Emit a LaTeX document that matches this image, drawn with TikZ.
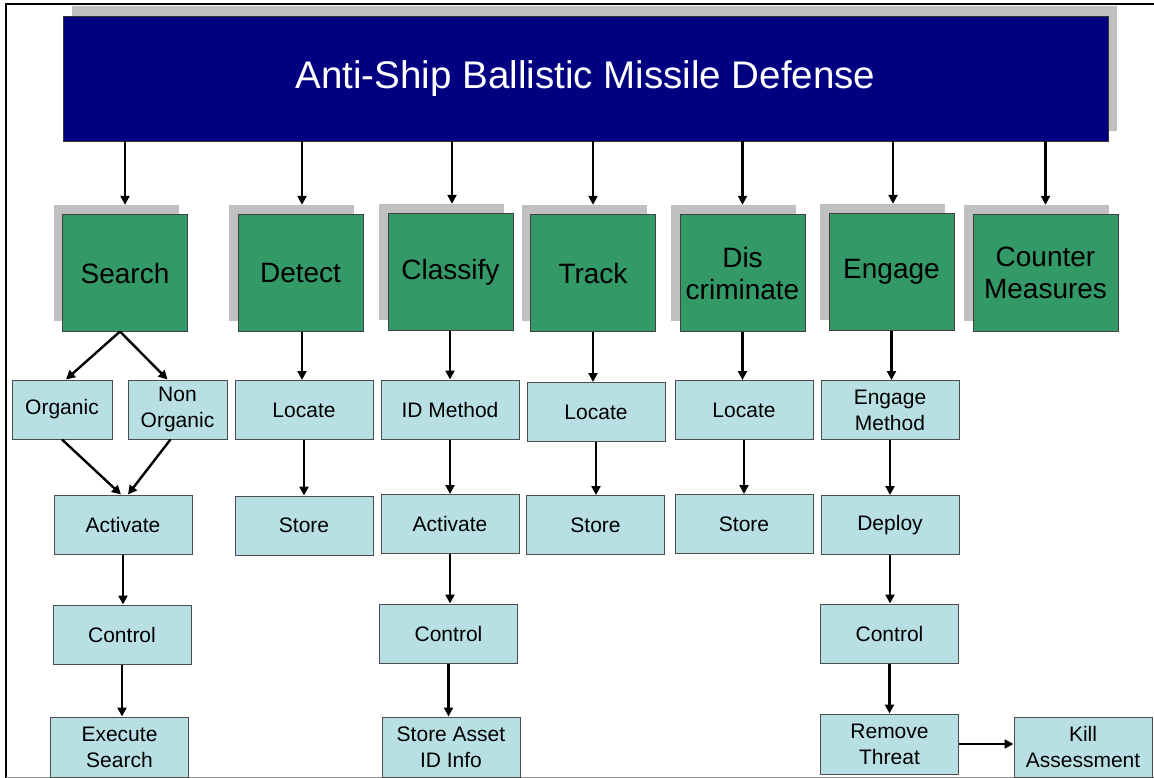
\documentclass[tikz,border=0pt]{standalone}
\usepackage{fontspec}
\setmainfont{Liberation Sans}
\usetikzlibrary{arrows.meta,calc}
\definecolor{barblue}{RGB}{0,0,128}
\definecolor{phase}{RGB}{51,153,102}
\definecolor{task}{RGB}{184,224,228}
\definecolor{shade}{RGB}{192,192,192}
\begin{document}
\begin{tikzpicture}[x=1pt,y=-1pt,
  phasebox/.style={draw=black!75, line width=1pt, fill=phase, minimum width=125pt,
    minimum height=116pt, inner sep=0pt, align=center, font=\fontsize{28}{32}\selectfont},
  phaseshadow/.style={fill=shade, minimum width=125pt, minimum height=116pt, inner sep=0pt},
  taskbox/.style={draw=black!70, line width=1pt, fill=task, minimum width=138pt,
    minimum height=59pt, inner sep=0pt, align=center, font=\fontsize{21}{26}\selectfont},
  arr/.style={line width=2.4pt, -{Triangle[length=9pt,width=9pt]}},
]
\useasboundingbox (0,0) rectangle (1154,778);
\fill[white] (0,0) rectangle (1154,778);

% frame
\draw[line width=1.6pt] (6,778) -- (6,4) -- (1154,4);
\draw[line width=1pt, black!45] (6,777.5) -- (1154,777.5);

% title bar
\node[fill=shade, minimum width=1045pt, minimum height=125pt, inner sep=0pt] (barsh) at (594.5,68.5) {};
\node[fill=barblue, draw=black!80, line width=0.8pt, minimum width=1045pt, minimum height=125pt,
  inner sep=0pt, text=white, font=\fontsize{38.5}{42}\selectfont] (bar) at (585.5,78.5)
  {Anti-Ship Ballistic Missile Defense};

% phase shadows
\node[phaseshadow] (searchsh)  at (116,263) {};
\node[phaseshadow] (detectsh)  at (291.5,263) {};
\node[phaseshadow] (classsh)   at (441.5,262) {};
\node[phaseshadow] (tracksh)   at (584,263) {};
\node[phaseshadow] (discsh)    at (733.5,263) {};
\node[phaseshadow] (engagesh)  at (882.5,262) {};
\node[phaseshadow, minimum width=145pt] (countersh) at (1036.5,263) {};

% phases
\node[phasebox] (search)  at (125,273) {Search};
\node[phasebox] (detect)  at (300.5,273) {Detect};
\node[phasebox] (class)   at (450.5,272) {Classify};
\node[phasebox] (track)   at (593,273) {Track};
\node[phasebox] (disc)    at (742.5,273) {Dis\\criminate};
\node[phasebox] (engage)  at (891.5,272) {Engage};
\node[phasebox, minimum width=145pt] (counter) at (1045.5,273) {Counter\\Measures};

% tasks, first row
\node[taskbox, minimum width=100pt] (org)  at (62,409.5) {Organic};
\node[taskbox, minimum width=99pt]  (non)  at (177.5,409.5) {Non\\Organic};
\node[taskbox] (dloc)  at (304,410) {Locate};
\node[taskbox] (idm)   at (450,409.5) {ID Method};
\node[taskbox] (tloc)  at (596,412) {Locate};
\node[taskbox] (xloc)  at (744,410) {Locate};
\node[taskbox] (emeth) at (890,410) {Engage\\Method};

% second row
\node[taskbox] (sact)   at (123,524.5) {Activate};
\node[taskbox] (dstore) at (304,525.5) {Store};
\node[taskbox] (cact)   at (450,524) {Activate};
\node[taskbox] (tstore) at (595.5,525) {Store};
\node[taskbox] (xstore) at (744,524) {Store};
\node[taskbox] (deploy) at (890,525) {Deploy};

% third row
\node[taskbox] (sctl) at (122,634.5) {Control};
\node[taskbox] (cctl) at (448.5,633.5) {Control};
\node[taskbox] (ectl) at (889.5,633.5) {Control};

% fourth row
\node[taskbox, minimum height=60pt] (exec)   at (119.5,747) {Execute\\Search};
\node[taskbox, minimum height=60pt] (sinfo)  at (451,747) {Store Asset\\ID Info};
\node[taskbox, minimum height=60pt] (remove) at (889.5,744) {Remove\\Threat};
\node[taskbox, minimum height=60pt] (kill)   at (1083,747) {Kill\\Assessment};

% title bar to phases
\draw[arr] (bar.south -| search) -- (search |- searchsh.north);
\draw[arr] ([xshift=1.5pt]bar.south -| detect) -- ([xshift=1.5pt]detect |- detectsh.north);
\draw[arr] ([xshift=1.5pt]bar.south -| class) -- ([xshift=1.5pt]class |- classsh.north);
\draw[arr] (bar.south -| track) -- (track |- tracksh.north);
\draw[arr] (bar.south -| disc) -- (disc |- discsh.north);
\draw[arr] ([xshift=1.5pt]bar.south -| engage) -- ([xshift=1.5pt]engage |- engagesh.north);
\draw[arr] (bar.south -| counter) -- (counter |- countersh.north);

% search branch
\draw[arr] ([xshift=-5pt]search.south) -- ([xshift=4pt]org.north);
\draw[arr] ([xshift=-5pt]search.south) -- ([xshift=-10pt]non.north);
\draw[arr] (org.south) -- ([xshift=-2pt]sact.north);
\draw[arr] ([xshift=-7pt]non.south) -- ([xshift=5pt]sact.north);
\draw[arr] (sact.south) -- (sact.south |- sctl.north);
\draw[arr] (sctl.south) -- (sctl.south |- exec.north);

% detect branch
\draw[arr] ([xshift=1.5pt]detect.south) -- ([xshift=1.5pt]detect.south |- dloc.north);
\draw[arr] (dloc.south) -- (dloc.south |- dstore.north);

% classify branch
\draw[arr] (idm.north |- class.south) -- (idm.north);
\draw[arr] (idm.south) -- (idm.south |- cact.north);
\draw[arr] (cact.south) -- (cact.south |- cctl.north);
\draw[arr] (cctl.south) -- (cctl.south |- sinfo.north);

% track branch
\draw[arr] (track.south) -- (track.south |- tloc.north);
\draw[arr] (tloc.south) -- (tloc.south |- tstore.north);

% discriminate branch
\draw[arr] (disc.south) -- (disc.south |- xloc.north);
\draw[arr] (xloc.south) -- (xloc.south |- xstore.north);

% engage branch
\draw[arr] (engage.south) -- (engage.south |- emeth.north);
\draw[arr] (emeth.south) -- (emeth.south |- deploy.north);
\draw[arr] (deploy.south) -- (deploy.south |- ectl.north);
\draw[arr] (ectl.south) -- (ectl.south |- remove.north);
\draw[arr] (remove.east) -- (remove.east -| kill.west);

\end{tikzpicture}
\end{document}
